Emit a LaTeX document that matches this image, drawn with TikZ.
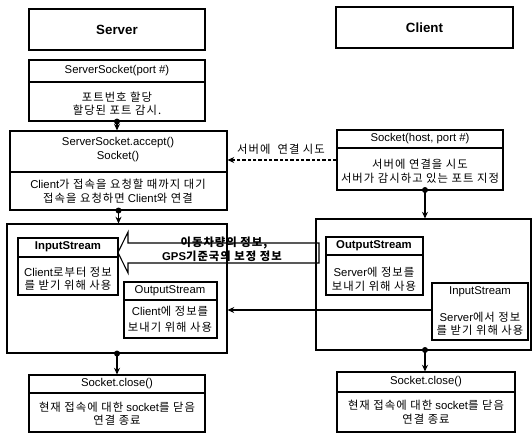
\documentclass[tikz,border=0pt]{standalone}
\usepackage{fontspec}
\setmainfont{Liberation Sans}
\newfontfamily\krfont[LetterSpace=9]{Noto Sans CJK KR}
\newcommand\kr[1]{{\krfont #1}}
\usetikzlibrary{arrows.meta,fit}

\begin{document}
\begin{tikzpicture}[x=0.75pt,y=-0.75pt,
  box/.style={draw,line width=0.8pt,inner sep=0pt},
  sep/.style={line width=0.8pt},
  txt/.style={inner sep=0pt,font=\fontsize{8.5}{10}\selectfont},
  btxt/.style={inner sep=0pt,font=\fontsize{8.5}{10}\selectfont\bfseries},
  title/.style={inner sep=0pt,font=\fontsize{10}{12}\selectfont\bfseries},
  conn/.style={line width=0.8pt,-{Stealth[length=5pt,width=4.5pt]}},
  dot/.style={circle,fill,inner sep=0pt,minimum size=4.5pt}
]
\useasboundingbox (0,0) rectangle (532,433);

% ---- column titles
\node[box,fit={(29,9) (205,50)}] (srv) {};
\node[title] (srvt) at (srv.center) {Server};
\node[box,fit={(336,7) (513,48)}] (cli) {};
\node[title] (clit) at (cli.center) {Client};

% ---- ServerSocket(port #)
\node[box,fit={(29,60) (205,121)}] (ss) {};
\draw[sep] (ss.west |- 0,82) -- (ss.east |- 0,82);
\node[txt] (ss1) at (117,71) {ServerSocket(port \#)};
\node[txt] (ss2) at (117,97) {\kr{포트번호 할당}};
\node[txt] (ss3) at (117,110) {\kr{할당된 포트 감시.}};

% ---- accept()
\node[box,fit={(10,131) (227,210)}] (acc) {};
\draw[sep] (acc.west |- 0,172) -- (acc.east |- 0,172);
\node[txt] (acc1) at (118,143) {ServerSocket.accept()};
\node[txt] (acc2) at (118,157) {Socket()};
\node[txt] (acc3) at (118,184) {Client\kr{가 접속을 요청할 때까지 대기}};
\node[txt] (acc4) at (118,198) {\kr{접속을 요청하면} Client\kr{와 연결}};

% ---- client Socket(host, port #)
\node[box,fit={(337,130) (503,190)}] (cs) {};
\draw[sep] (cs.west |- 0,148) -- (cs.east |- 0,148);
\node[txt] (cs1) at (420,139) {Socket(host, port \#)};
\node[txt] (cs2) at (420,164) {\kr{서버에 연결을 시도}};
\node[txt] (cs3) at (420,178) {\kr{서버가 감시하고 있는 포트 지정}};

% ---- server streams
\node[box,fit={(7,224) (227,353)}] (sst) {};
\node[box,fit={(18,238) (118,295)}] (sin) {};
\draw[sep] (sin.west |- 0,257) -- (sin.east |- 0,257);
\node[btxt] (sin1) at (68,247) {InputStream};
\node[txt] (sin2) at (68,272) {Client\kr{로부터 정보}};
\node[txt] (sin3) at (68,285) {\kr{를 받기 위해 사용}};
\node[box,fit={(124,282) (217,338)}] (sout) {};
\draw[sep] (sout.west |- 0,300) -- (sout.east |- 0,300);
\node[txt] (sout1) at (170,291) {OutputStream};
\node[txt] (sout2) at (170,311) {Client\kr{에 정보를}};
\node[txt] (sout3) at (170,327) {\kr{보내기 위해 사용}};

% ---- client streams
\node[box,fit={(316,219) (531,350)}] (cst) {};
\node[box,fit={(326,237) (423,295)}] (cout) {};
\draw[sep] (cout.west |- 0,255) -- (cout.east |- 0,255);
\node[btxt] (cout1) at (374,246) {OutputStream};
\node[txt] (cout2) at (374,272) {Server\kr{에 정보를}};
\node[txt] (cout3) at (374,286) {\kr{보내기 위해 사용}};
\node[box,fit={(432,283) (528,340)}] (cin) {};
\node[txt] (cin1) at (480,292) {InputStream};
\node[txt] (cin2) at (480,317) {Server\kr{에서 정보}};
\node[txt] (cin3) at (480,330) {\kr{를 받기 위해 사용}};

% ---- close()
\node[box,fit={(29,375) (205,432)}] (scl) {};
\draw[sep] (scl.west |- 0,393) -- (scl.east |- 0,393);
\node[txt] (scl1) at (117,384) {Socket.close()};
\node[txt] (scl2) at (117,407) {\kr{현재 접속에 대한} socket\kr{를 닫음}};
\node[txt] (scl3) at (117,420) {\kr{연결 종료}};
\node[box,fit={(337,372) (515,432)}] (ccl) {};
\draw[sep] (ccl.west |- 0,392) -- (ccl.east |- 0,392);
\node[txt] (ccl1) at (426,382) {Socket.close()};
\node[txt] (ccl2) at (426,405) {\kr{현재 접속에 대한} socket\kr{를 닫음}};
\node[txt] (ccl3) at (426,419) {\kr{연결 종료}};

% ---- flow connectors
\node[dot] (d1) at (ss.south) {};
\draw[conn] (d1.center) -- (d1 |- acc.north);
\node[dot] (d2) at (acc.south) {};
\draw[conn] (d2.center) -- (d2 |- sst.north);
\node[dot] (d3) at (sst.south) {};
\draw[conn] (d3.center) -- (d3 |- scl.north);
\node[dot] (d4) at (425,190) {};
\draw[conn] (d4.center) -- (d4 |- cst.north);
\node[dot] (d5) at (425,350) {};
\draw[conn] (d5.center) -- (d5 |- ccl.north);

% connection request
\draw[conn,dash pattern=on 2.5pt off 1.5pt] (cs.west |- 0,160) -- (acc.east |- 0,160);
\node[txt] (req) at (281,149) {\kr{서버에 \ 연결 시도}};

% data from client to server
\draw[conn] (cin.west |- 0,310) -- (sst.east |- 0,310);

% hollow block arrow carrying the data description
\coordinate (tip) at (118,252.5);
\draw[line width=0.8pt] (tip) -- (128,232) -- (128,243) -- (319,243) -- (319,263)
  -- (128,263) -- (128,273) -- cycle;
\node[btxt] (blk1) at (224,243) {\kr{\bfseries 이동차량의 정보,}};
\node[btxt] (blk2) at (222,256) {GPS\kr{\bfseries 기준국의 보정 정보}};
\end{tikzpicture}
\end{document}
